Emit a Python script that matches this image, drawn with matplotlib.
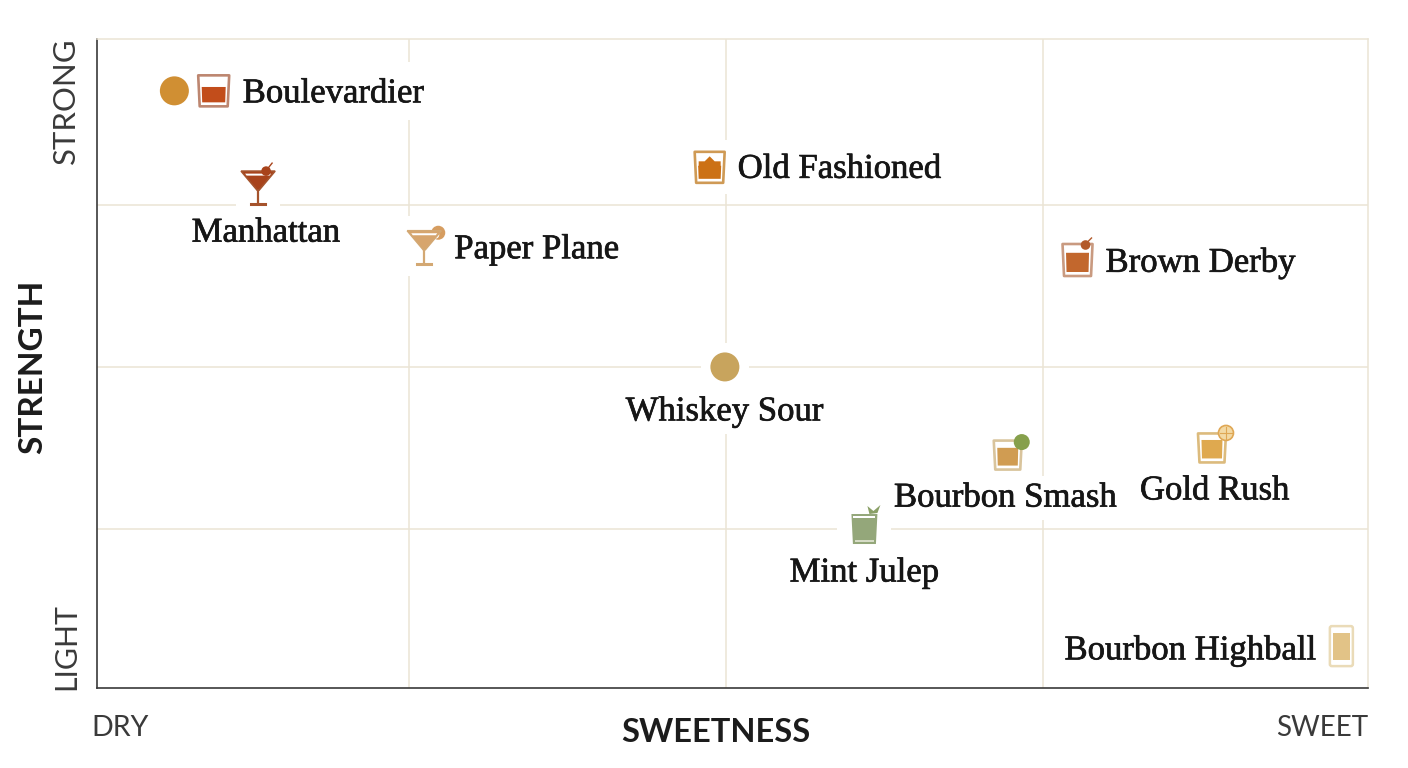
#!/usr/bin/env python3
# Bourbon cocktails placed on a sweetness / strength grid, one small glass per drink.

import matplotlib
matplotlib.use("Agg")
import matplotlib.pyplot as plt
import matplotlib.patheffects as pe
from matplotlib.patches import Circle, FancyBboxPatch, Polygon, Rectangle
from matplotlib.transforms import Affine2D, ScaledTranslation

drinks = ["Boulevardier", "Manhattan", "Paper Plane", "Old Fashioned", "Brown Derby",
          "Whiskey Sour", "Bourbon Smash", "Gold Rush", "Mint Julep", "Bourbon Highball"]
sweetness = [9.6, 13.1, 26.2, 48.7, 77.7, 49.9, 72.2, 88.3, 60.9, 98.5]
strength = [92.6, 77.9, 68.7, 80.8, 66.5, 50.0, 36.4, 37.5, 25.3, 7.0]
grid_x = [25, 50, 75]
grid_y = [25, 50, 75]

GRID = "#ebe4d5"
INK = "#161616"
AXIS_TXT = "#3a3a3a"

# label placement relative to the glass, in pixels: dx, dy, horizontal alignment, box padding
LABELS = {
    "Boulevardier": (29, 3, "left", 4),
    "Manhattan": (8, 47, "center", 2),
    "Paper Plane": (30, 4, "left", 4),
    "Old Fashioned": (28, 2, "left", 4),
    "Brown Derby": (28, 3, "left", 4),
    "Whiskey Sour": (0, 45, "center", 4),
    "Bourbon Smash": (-2, 43, "center", 4),
    "Gold Rush": (3, 43, "center", 4),
    "Mint Julep": (0, 46, "center", 4),
    "Bourbon Highball": (-24, 5, "right", 4),
}


def add(ax, trans, patch, z=3):
    patch.set_transform(trans)
    patch.set_zorder(z)
    patch.set_clip_on(False)
    ax.add_patch(patch)


def mask(ax, trans, w, h, right=None):
    # white knock-out so the grid stops short of the glass
    right = w if right is None else right
    add(ax, trans, Rectangle((-w, -h), w + right, 2 * h, fc="white", ec="none"), z=1.5)


def tumbler(ax, trans, w, h, edge, fill, top=-0.25, lw=1.9):
    add(ax, trans, Polygon([(-w, -h), (w, -h), (w - 1.5, h), (-w + 1.5, h)],
                           closed=True, fc="white", ec=edge, lw=lw, joinstyle="round"))
    add(ax, trans, Polygon([(-w + 3.5, h * top), (w - 3.5, h * top), (w - 4, h - 4), (-w + 4, h - 4)],
                           closed=True, fc=fill, ec="none"), z=3.1)


def martini(ax, trans, edge, fill):
    add(ax, trans, Polygon([(-17, -15), (17, -15), (1, 4), (-1, 4)], closed=True, fc=fill, ec=edge, lw=1.2), z=3)
    add(ax, trans, Polygon([(-13, -12.5), (13, -12.5), (11.5, -10.5), (-11.5, -10.5)], closed=True,
                           fc="white", ec="none"), z=3.1)
    ax.plot([0, 0], [3, 17], color=edge, lw=1.6, transform=trans, zorder=3, solid_capstyle="butt")
    ax.plot([-7, 7], [18, 18], color=edge, lw=2.2, transform=trans, zorder=3)


def draw_glass(ax, name, trans):
    if name == "Boulevardier":
        mask(ax, trans, 22, 29, right=215)
        tumbler(ax, trans, 15.5, 15.5, "#bd8670", "#c24d1b")
    elif name == "Manhattan":
        mask(ax, trans, 22, 24)
        martini(ax, trans, "#a5532c", "#a8431b")
        add(ax, trans, Circle((8, -15), 4.8, fc="#a8431b", ec="none"), z=3.2)
        ax.plot([10, 14], [-18, -23], color="#a8431b", lw=1.0, transform=trans, zorder=3.2)
    elif name == "Paper Plane":
        mask(ax, trans, 24, 30)
        add(ax, trans, Circle((14, -13), 7, fc="#d69d60", ec="none"), z=2.8)
        add(ax, trans, Circle((11, -11), 4, fc="white", ec="none"), z=2.9)
        martini(ax, trans, "#d3a873", "#d7a56d")
    elif name == "Old Fashioned":
        mask(ax, trans, 22, 27)
        tumbler(ax, trans, 15, 15.5, "#cf9a55", "#cc7115", top=-0.1)
        add(ax, trans, Polygon([(-11, 0), (-11, -6), (-5, -6), (0, -11), (5, -6), (11, -6), (11, 0)],
                               closed=True, fc="#cc7115", ec="none"), z=3.1)
    elif name == "Brown Derby":
        tumbler(ax, trans, 15, 16, "#c99a80", "#c2672d", top=-0.45)
        add(ax, trans, Circle((8, -15), 4.8, fc="#b25a2a", ec="none"), z=3.2)
        ax.plot([10, 14], [-18, -22], color="#b25a2a", lw=1.0, transform=trans, zorder=3.2)
    elif name == "Whiskey Sour":
        mask(ax, trans, 24, 24)
        add(ax, trans, Circle((0, 0), 14.5, fc="#c8a45d", ec="none"))
    elif name == "Bourbon Smash":
        tumbler(ax, trans, 14, 14.5, "#d9c49c", "#d09c52", top=-0.5)
        add(ax, trans, Circle((14, -13), 8, fc="#86a04c", ec="none"), z=3.2)
    elif name == "Gold Rush":
        tumbler(ax, trans, 14, 14.5, "#dcbb7d", "#dfa94f", top=-0.55)
        add(ax, trans, Circle((14, -15), 7.5, fc="#f3d9a4", ec="#dfa754", lw=1.2), z=3.2)
        ax.plot([8, 20], [-15, -15], color="#dfa754", lw=0.8, transform=trans, zorder=3.3)
        ax.plot([14, 14], [-21, -9], color="#dfa754", lw=0.8, transform=trans, zorder=3.3)
    elif name == "Mint Julep":
        mask(ax, trans, 27, 20)
        add(ax, trans, Polygon([(-13, -13), (13, -13), (11.5, 17), (-11.5, 17)], closed=True,
                               fc="#94a77a", ec="none"))
        add(ax, trans, Rectangle((-11, -11), 22, 2, fc="white", ec="none"), z=3.1)
        add(ax, trans, Rectangle((-9.5, 13), 19, 2, fc="#d6dcc6", ec="none"), z=3.1)
        add(ax, trans, Polygon([(5, -13), (3, -21), (9, -16), (16, -22), (13, -14)], closed=True,
                               fc="#8aa067", ec="none"))
    elif name == "Bourbon Highball":
        add(ax, trans, FancyBboxPatch((-11.5, -19.5), 23, 40, boxstyle="round,pad=0,rounding_size=2",
                                      fc="white", ec="#eadbb8", lw=1.8))
        add(ax, trans, Rectangle((-8, -13), 17, 27, fc="#e2c387", ec="none"), z=3.1)


fig = plt.figure(figsize=(14.08, 7.68), dpi=100, facecolor="white")
ax = fig.add_axes([97 / 1408, 1 - 688 / 768, 1271 / 1408, 649 / 768])
ax.set_xlim(0.4, 100.6)
ax.set_ylim(0.46, 100.6)
ax.set_xticks(grid_x)
ax.set_yticks(grid_y)
ax.tick_params(length=0, labelbottom=False, labelleft=False)
ax.set_axisbelow(True)
ax.grid(True, color=GRID, lw=1.1)

for side in ("top", "right"):
    ax.spines[side].set_color(GRID)
    ax.spines[side].set_linewidth(1.1)
for side in ("left", "bottom"):
    ax.spines[side].set_color("#3a3a3a")
    ax.spines[side].set_linewidth(1.2)

for name, sx, sy in zip(drinks, sweetness, strength):
    # local pixel frame centred on the drink, y pointing down
    trans = Affine2D().scale(1, -1) + ScaledTranslation(sx, sy, ax.transData)
    draw_glass(ax, name, trans)
    dx, dy, ha, pad = LABELS[name]
    txt = ax.annotate(name, (sx, sy), xytext=(dx * 0.72, -dy * 0.72), textcoords="offset points",
                      ha=ha, va="center", fontsize=25, family="Liberation Serif", color=INK, zorder=4,
                      bbox=dict(fc="white", ec="none", pad=pad))
    txt.set_path_effects([pe.withStroke(linewidth=0.5, foreground=INK)])

# the extra swatch beside the Boulevardier glass
ax.add_patch(Circle((0, 0), 14.5, fc="#d08f33", ec="none", zorder=3,
                    transform=Affine2D().scale(1, -1) + ScaledTranslation(6.5, 92.6, ax.transData)))

sans = "Lato"
fig.text(33 / 1408, 1 - 367 / 768, "STRENGTH", rotation=90, ha="center", va="center",
         fontsize=24, fontweight="bold", family=sans, color="#1c1c1c")
fig.text(716 / 1408, 1 - 733 / 768, "SWEETNESS", ha="center", va="center",
         fontsize=23.5, fontweight="bold", family=sans, color="#1c1c1c")
fig.text(66 / 1408, 1 - 101 / 768, "STRONG", rotation=90, ha="center", va="center",
         fontsize=22.4, family=sans, color=AXIS_TXT)
fig.text(66 / 1408, 1 - 646 / 768, "LIGHT", rotation=90, ha="center", va="center",
         fontsize=21.8, family=sans, color=AXIS_TXT)
fig.text(91 / 1408, 1 - 728 / 768, "DRY", ha="left", va="center",
         fontsize=20.5, family=sans, color=AXIS_TXT)
fig.text(1368 / 1408, 1 - 728 / 768, "SWEET", ha="right", va="center",
         fontsize=20, family=sans, color=AXIS_TXT)

fig.savefig("out.png", dpi=100)
